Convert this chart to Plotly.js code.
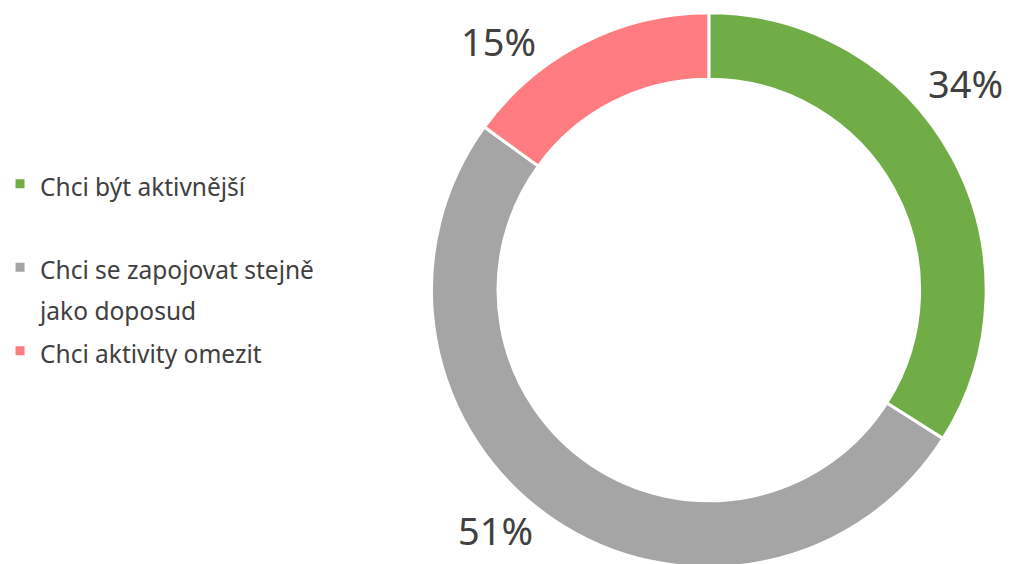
<!DOCTYPE html>
<html>
<head>
<meta charset="utf-8">
<script src="https://cdn.plot.ly/plotly-3.0.1.min.js"></script>
<style>
html,body{margin:0;padding:0;overflow:hidden;background:#fff;}
#chart{width:1015px;height:570px;}
</style>
</head>
<body>
<div id="chart"></div>
<script>
const categories = ["Chci být aktivnější", "Chci se zapojovat stejně<br>jako doposud", "Chci aktivity omezit"];
const values = [34, 51, 15];
const colors = ["#70AD47", "#A5A5A5", "#FF7C80"];

const W = 1015, H = 570;
const textColor = "#404040";
const fontFam = "'Noto Sans', 'Open Sans', sans-serif";

// legend text: smaller visible size inside a taller line; blank line after the first item
const legendText = categories.map((c, i) =>
  '<span style="font-size:24.5px">' + c + '</span>' + (i === 0 ? '<br> ' : ''));

const trace = {
  type: "pie",
  labels: legendText,
  values: values,
  sort: false,
  direction: "clockwise",
  rotation: 0,
  hole: 0.76,
  textinfo: "none",
  hoverinfo: "percent",
  marker: { colors: colors, line: { color: "#ffffff", width: 3 } },
  domain: { x: [428 / W, 986 / W], y: [(H - 569) / H, (H - 11) / H] }
};

// label placement (pixel centres) for each slice's percentage
const labelPx = [[965, 83], [492, 530], [495, 41]];
const total = values.reduce((a, b) => a + b, 0);
const annotations = values.map((v, i) => ({
  xref: "paper", yref: "paper",
  x: labelPx[i][0] / W, y: (H - labelPx[i][1]) / H,
  xanchor: "center", yanchor: "middle",
  text: Math.round(v / total * 100) + "%",
  showarrow: false,
  font: { family: fontFam, size: 38, color: textColor }
}));

const layout = {
  width: W, height: H,
  margin: { l: 0, r: 0, t: 0, b: 0 },
  paper_bgcolor: "#ffffff",
  showlegend: true,
  legend: {
    x: -6 / W, y: (H - 157) / H, xanchor: "left", yanchor: "top",
    valign: "top",
    font: { family: fontFam, size: 31, color: textColor },
    itemclick: false, itemdoubleclick: false
  },
  annotations: annotations
};

Plotly.newPlot("chart", [trace], layout, { staticPlot: true });
</script>
</body>
</html>
